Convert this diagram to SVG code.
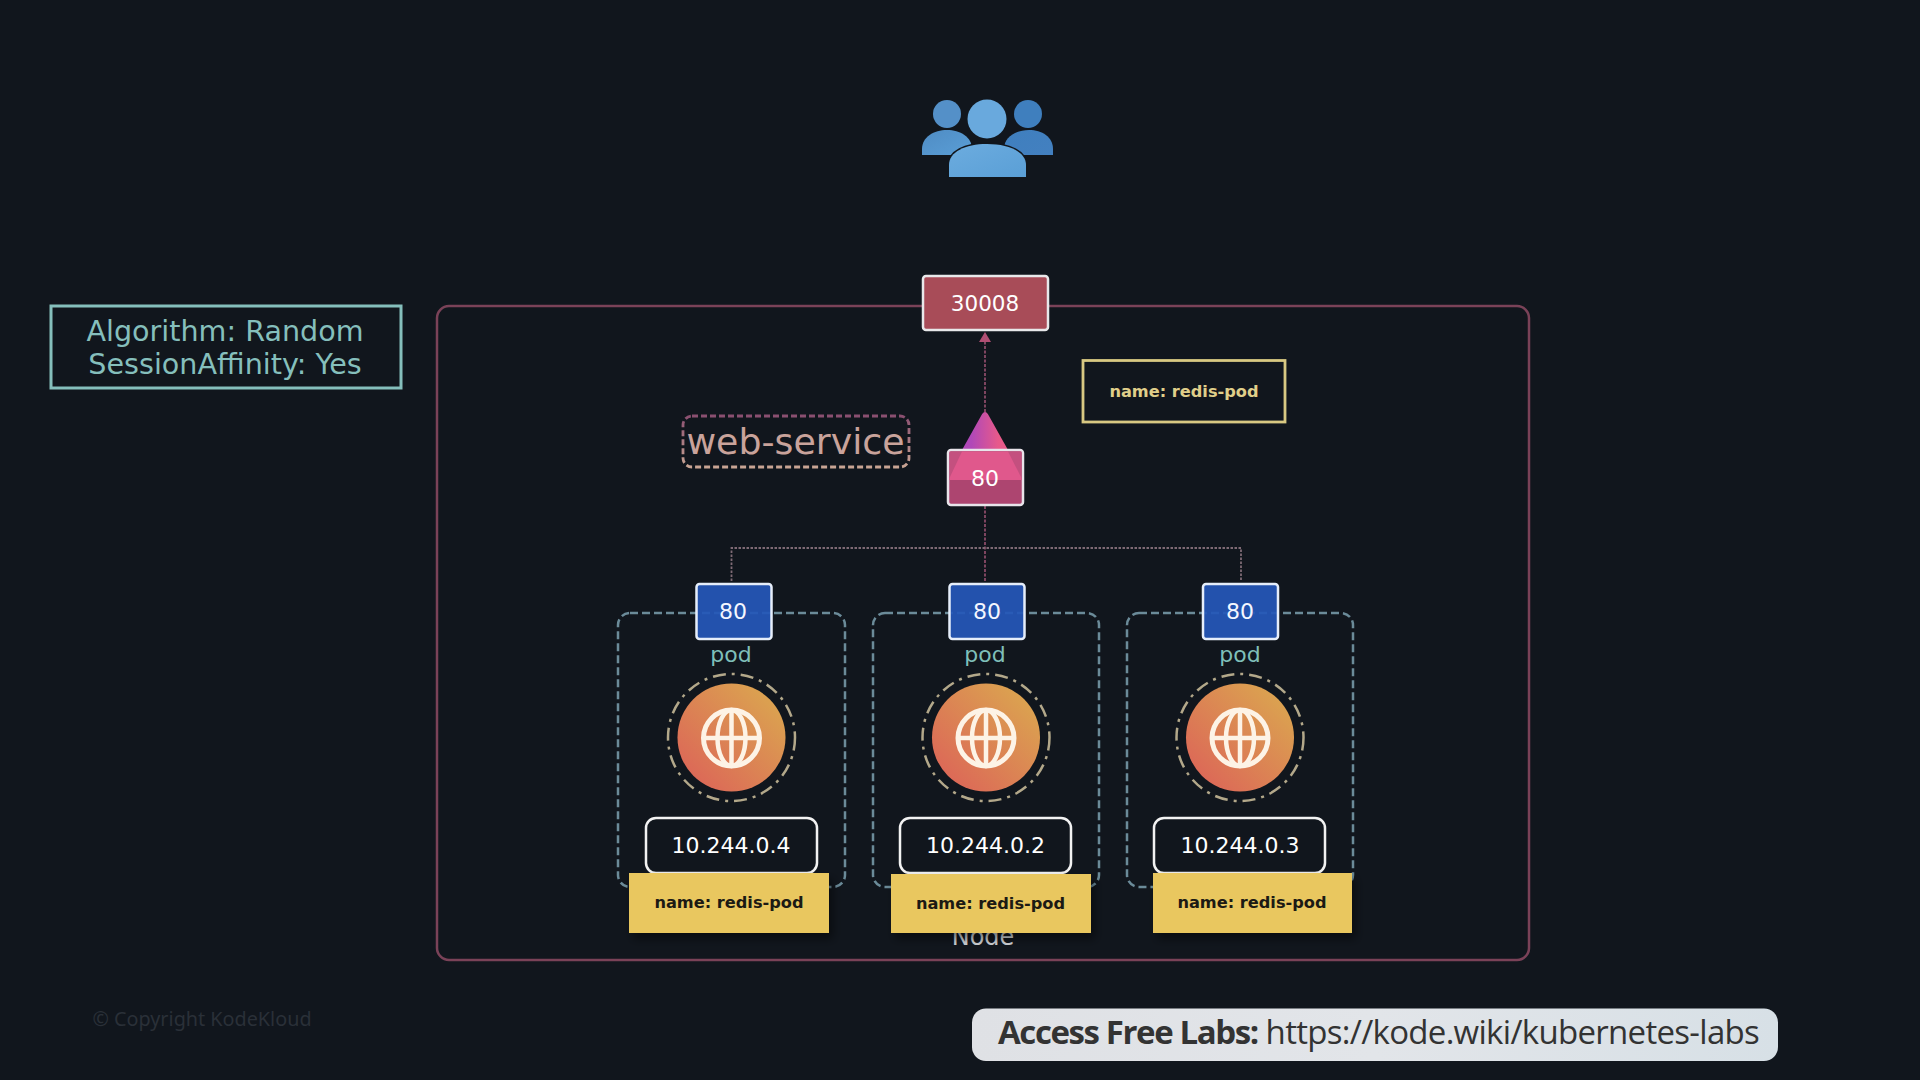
<svg xmlns="http://www.w3.org/2000/svg" xmlns:xlink="http://www.w3.org/1999/xlink" width="1920" height="1080" viewBox="0 0 1920 1080">
<style>
text{font-family:"DejaVu Sans","Liberation Sans",sans-serif;text-anchor:middle}
.pod{fill:none;stroke:#6b8b99;stroke-width:2.500;stroke-dasharray:8 4}
.podt{fill:#7fbfb9;font-size:22px}
.blue{fill:#2557b8;fill-opacity:.93;stroke:#e6eefa;stroke-width:2.5}
.port{fill:#f4f7ff;font-size:22px}
.ring{fill:none;stroke:#b3a88a;stroke-width:2.500;stroke-dasharray:13 6 3 6}
.ip{fill:#11161d;stroke:#f2f2f2;stroke-width:2.5}
.ipt{fill:#fff;font-size:22px}
.tag{fill:#e9c75f;filter:url(#sh)}
.tagt{fill:#1c1a14;font-size:16.200px;font-weight:700}
.glb{fill:none;stroke:#fdf3e6;stroke-width:4.500}
.c1{fill:none;stroke:#8a4a68;stroke-width:1.800;stroke-dasharray:3 1.5}
.c2{fill:none;stroke:#7f6a75;stroke-width:1.800;stroke-dasharray:2.5 1.5}
</style>
<defs>
<linearGradient id="org" x1="0.15" y1="0.85" x2="0.85" y2="0.15"><stop offset="0" stop-color="#dc6a57"/><stop offset="1" stop-color="#dba150"/></linearGradient>
<linearGradient id="tri" x1="0" y1="0" x2="1" y2="0"><stop offset="0.2" stop-color="#b048b8"/><stop offset="0.8" stop-color="#e85a8a"/></linearGradient>
<linearGradient id="wsb" x1="0" y1="0" x2="0" y2="1"><stop offset="0" stop-color="#8a4f70"/><stop offset="1" stop-color="#c9a594"/></linearGradient>
<linearGradient id="pl" x1="0" y1="0" x2="1" y2="1"><stop offset="0" stop-color="#4f8cc4"/><stop offset="1" stop-color="#5a9ed6"/></linearGradient>
<linearGradient id="pr" x1="0" y1="0" x2="1" y2="1"><stop offset="0" stop-color="#3f7fbe"/><stop offset="1" stop-color="#4380c0"/></linearGradient>
<linearGradient id="pc" x1="0" y1="0" x2="1" y2="1"><stop offset="0" stop-color="#6cacdf"/><stop offset="1" stop-color="#5a9fd6"/></linearGradient>
<linearGradient id="pill" x1="0" y1="0" x2="1" y2="0"><stop offset="0" stop-color="#dfe1e5"/><stop offset="0.5" stop-color="#e2e5e9"/><stop offset="1" stop-color="#d7e0e6"/></linearGradient>
<filter id="sh" x="-10%" y="-10%" width="125%" height="135%"><feDropShadow dx="4" dy="6" stdDeviation="5" flood-color="#000" flood-opacity=".45"/></filter>
<g id="globe">
<circle class="glb" r="28" style="stroke-width:5"/>
<ellipse class="glb" rx="14" ry="28"/>
<path class="glb" d="M0-28V28M-28 0H28"/>
</g>
</defs>
<rect width="1920" height="1080" fill="#11161d"/>
<g id="users">
<circle cx="947" cy="114" r="14" fill="#5490c8"/>
<circle cx="1028" cy="114" r="14" fill="#3f7fbe"/>
<path d="M922 155V149C922 137 934 130 947 130C960 130 972 137 972 149V155Z" fill="url(#pl)"/>
<path d="M1004 155V149C1004 137 1016 130 1029 130C1042 130 1053 137 1053 149V155Z" fill="url(#pr)"/>
<circle cx="987" cy="119" r="19.5" fill="#69a9dd"/>
<path d="M949 177V165C949 152 965 144 987 144C1009 144 1026 152 1026 165V177Z" fill="url(#pc)" stroke="#11161d" stroke-width="3" paint-order="stroke"/>
</g>
<g id="algorithm">
<rect x="51" y="306" width="350" height="82" fill="none" stroke="#85bfbc" stroke-width="3"/>
<text x="225" y="341" font-size="28.600" fill="#85bfbc">Algorithm: Random</text>
<text x="225" y="374" font-size="28.600" fill="#85bfbc">SessionAffinity: Yes</text>
</g>
<g id="node">
<rect x="437" y="306" width="1092" height="654" rx="12" fill="none" stroke="#7a4258" stroke-width="2.5"/>
<text x="983" y="945" font-size="24" fill="#d0d3d7">Node</text>
</g>
<g id="connectors">
<path class="c1" d="M985 412V342"/>
<path d="M985 332L991 342H979Z" fill="#b04f73"/>
<path class="c1" d="M985 506V581"/>
<path class="c2" d="M731.500 581V548H1241V581"/>
</g>
<g id="pod-1">
<rect class="pod" x="618" y="613" width="227" height="274" rx="12"/>
<rect class="blue" x="696.500" y="584" width="75" height="55" rx="3"/>
<text class="port" x="733" y="619">80</text>
<text class="podt" x="731" y="662">pod</text>
<circle class="ring" cx="731.500" cy="737.500" r="63.500"/>
<circle cx="731.500" cy="737.500" r="54" fill="url(#org)"/>
<use href="#globe" x="731.500" y="738"/>
<rect class="ip" x="646" y="818" width="171" height="55" rx="10"/>
<text class="ipt" x="731" y="853">10.244.0.4</text>
<rect class="tag" x="629" y="873" width="200" height="60"/>
<text class="tagt" x="729" y="908">name: redis-pod</text>
</g>
<g id="pod-2">
<rect class="pod" x="873" y="613" width="226" height="274" rx="12"/>
<rect class="blue" x="949.500" y="584" width="75" height="55" rx="3"/>
<text class="port" x="987" y="619">80</text>
<text class="podt" x="985" y="662">pod</text>
<circle class="ring" cx="986" cy="737.500" r="63.500"/>
<circle cx="986" cy="737.500" r="54" fill="url(#org)"/>
<use href="#globe" x="986" y="738"/>
<rect class="ip" x="900" y="818" width="171" height="55" rx="10"/>
<text class="ipt" x="985.500" y="853">10.244.0.2</text>
<rect class="tag" x="891" y="874" width="200" height="59"/>
<text class="tagt" x="990.500" y="909">name: redis-pod</text>
</g>
<g id="pod-3">
<rect class="pod" x="1127" y="613" width="226" height="274" rx="12"/>
<rect class="blue" x="1203" y="584" width="75" height="55" rx="3"/>
<text class="port" x="1240" y="619">80</text>
<text class="podt" x="1240" y="662">pod</text>
<circle class="ring" cx="1240" cy="737.500" r="63.500"/>
<circle cx="1240" cy="737.500" r="54" fill="url(#org)"/>
<use href="#globe" x="1240" y="738"/>
<rect class="ip" x="1154" y="818" width="171" height="55" rx="10"/>
<text class="ipt" x="1240" y="853">10.244.0.3</text>
<rect class="tag" x="1153" y="873" width="199" height="60"/>
<text class="tagt" x="1252" y="908">name: redis-pod</text>
</g>
<g id="nodeport">
<rect x="923" y="276" width="125" height="54" rx="3" fill="#a84c58" stroke="#e8e8ea" stroke-width="2.5"/>
<text x="985" y="311" font-size="21.500" fill="#fff">30008</text>
</g>
<g id="service-port">
<path d="M985 412Q987 412 989 416L1008 450H962L981 416Q983 412 985 412Z" fill="url(#tri)"/>
<rect x="948" y="450" width="75" height="55" rx="3" fill="#ad4570" stroke="#e8e4ea" stroke-width="2.5"/>
<path d="M949.500 451.500H1021.500V480H949.500Z" fill="#c4507f"/>
<path d="M962 451.500H1008L1021.500 478V480H949.500V478Z" fill="#e0588c"/>
<text x="985" y="486" font-size="22" fill="#fff">80</text>
</g>
<g id="web-service">
<rect x="683" y="416" width="226" height="51" rx="9" fill="none" stroke="url(#wsb)" stroke-width="2.800" stroke-dasharray="6 3"/>
<text x="795.500" y="454" font-size="36.300" fill="#c9a39b">web-service</text>
</g>
<g id="selector">
<rect x="1083" y="360.500" width="202" height="61.500" fill="none" stroke="#d8c882" stroke-width="2.800"/>
<text class="tagt" x="1184" y="397" style="fill:#e0cf8a">name: redis-pod</text>
</g>
<text x="202" y="1026" font-size="19.800" fill="#2a3038" style="font-family:'Noto Sans',sans-serif">© Copyright KodeKloud</text>
<g id="labs-banner">
<rect x="972" y="1008.500" width="806" height="52.500" rx="14" fill="url(#pill)"/>
<text x="998" y="1044" font-size="33" fill="#333" style="font-family:'Open Sans',sans-serif;text-anchor:start"><tspan font-weight="700" letter-spacing="-1.400">Access Free Labs:</tspan><tspan letter-spacing="-0.700"> https://kode.wiki/kubernetes-labs</tspan></text>
</g>
</svg>
